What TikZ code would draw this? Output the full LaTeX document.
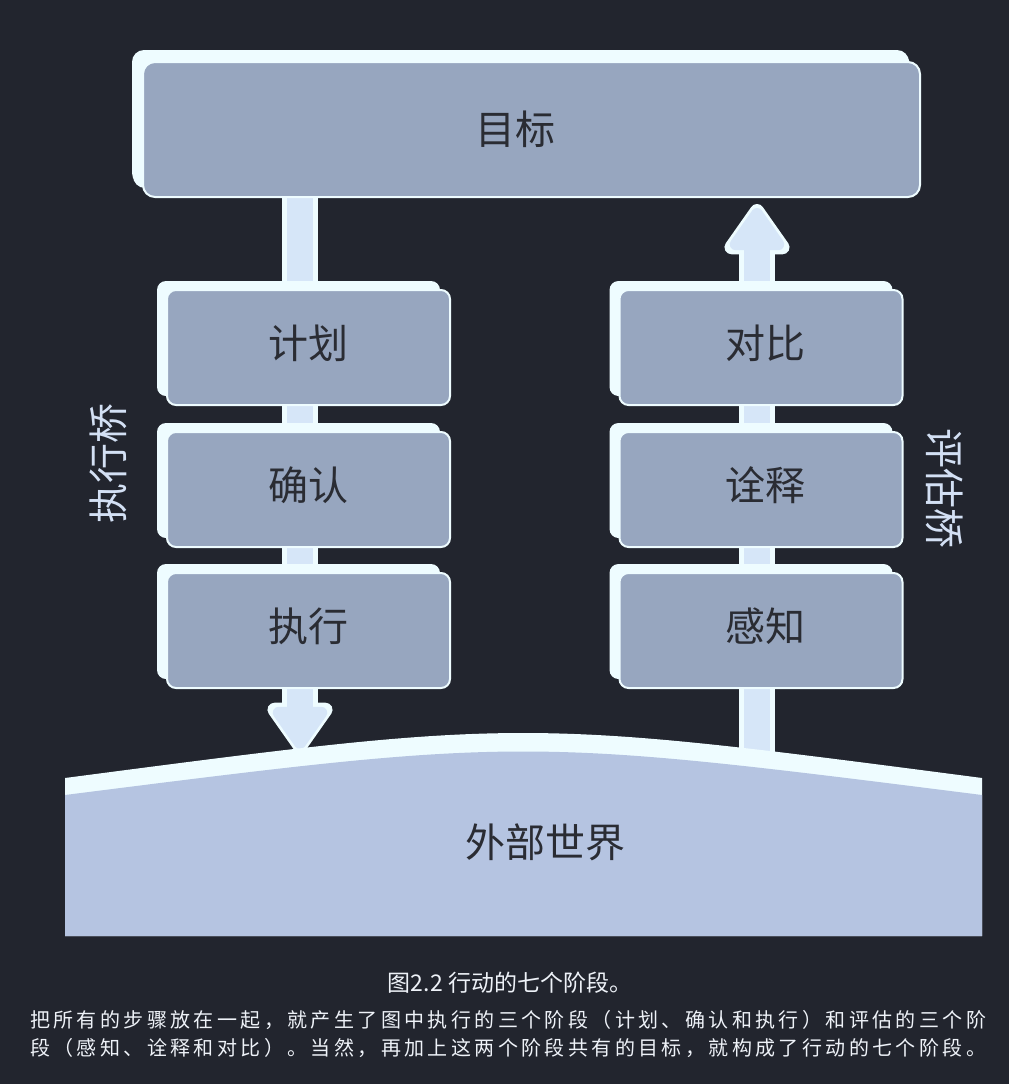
\documentclass[tikz,border=0pt]{standalone}
\usepackage{fontspec}
\usepackage{tikz}
\usetikzlibrary{arrows.meta,shadows}
\newfontfamily\cjk{Noto Sans CJK SC}
\newfontfamily\cjkcap[LetterSpace=17]{Noto Sans CJK SC}
\definecolor{bgdark}{HTML}{22252E}
\definecolor{frame}{HTML}{EEFCFF}
\definecolor{boxfill}{HTML}{97A6BF}
\definecolor{boxtext}{HTML}{2A2C33}
\definecolor{barfill}{HTML}{D6E6F8}
\definecolor{groundfill}{HTML}{B5C4E1}
\definecolor{sidetext}{HTML}{D3E0F4}
\definecolor{captext}{HTML}{EEF2F8}
\pgfdeclarelayer{back}
\pgfsetlayers{back,main}
\tikzset{
  stage/.style={draw=frame, line width=2pt, fill=boxfill, rounded corners=9pt,
    minimum width=283pt, minimum height=115pt, text=boxtext,
    font=\cjk\fontsize{40}{48}\selectfont, text height=35pt, text depth=13.6pt,
    drop shadow={shadow xshift=-10pt, shadow yshift=9pt, fill=frame, opacity=1}},
  goalbox/.style={stage, minimum width=777pt, minimum height=135pt, rounded corners=12pt,
    text depth=4.8pt,
    drop shadow={shadow xshift=-11pt, shadow yshift=12pt, fill=frame, opacity=1}},
  side/.style={text=sidetext, font=\cjk\fontsize{40}{48}\selectfont},
  barout/.style={draw=frame, line width=36pt, -{Triangle[width=74pt,length=56pt,round]}},
  barin/.style={draw=barfill, line width=26pt, -{Triangle[width=62pt,length=47pt,round]}},
  caption/.style={text=captext, inner sep=0pt}
}
\begin{document}
\begin{tikzpicture}[x=1pt,y=-1pt]
  \begin{pgfonlayer}{back}
    \fill[bgdark] (0,0) rectangle (1009,1084);
  \end{pgfonlayer}
  % Goal
  \node[goalbox] (goal) at (531.5,129.5) {目标\hspace*{32pt}};
  % Execution
  \node[stage] (plan) at (308.5,347.5) {计划};
  \node[stage] (confirm) at (308.5,489.5) {确认};
  \node[stage] (execute) at (308.5,630.5) {执行};
  \node[side, rotate=90] (execbridge) at (108,463) {执行桥};
  % Evaluation
  \node[stage] (compare) at (761,347.5) {\hspace*{8pt}对比};
  \node[stage] (interpret) at (761,489.5) {\hspace*{8pt}诠释};
  \node[stage] (perceive) at (761,630.5) {\hspace*{8pt}感知};
  \node[side, rotate=-90] (evalbridge) at (945,488) {评估桥};
  % World
  \fill[frame] (65,778) .. controls (523,718) .. (982,778) -- (982,936) -- (65,936) -- cycle;
  \fill[groundfill] (65,795) .. controls (523,737) .. (982,795) -- (982,936) -- (65,936) -- cycle;
  \node[text=boxtext, font=\cjk\fontsize{40}{48}\selectfont] (world) at (545,842) {外部世界};
  \coordinate (worldL) at (300,753);
  \coordinate (worldR) at (757,775);
  % Bridges
  \begin{pgfonlayer}{back}
    \draw[barout] (goal.south -| worldL) -- (worldL);
    \draw[barin, shorten >=4pt] (goal.south -| worldL) -- (worldL);
    \draw[barout, shorten >=6pt] (worldR) -- (goal.south -| worldR);
    \draw[barin, shorten >=10pt] (worldR) -- (goal.south -| worldR);
  \end{pgfonlayer}
  % Caption
  \node[caption, font=\cjk\fontsize{23}{26}\selectfont] (title) at (510,983) {图2.2 行动的七个阶段。};
  \node[caption, anchor=west, font=\cjkcap\fontsize{20}{24}\selectfont] (line1) at (30,1020)
    {把所有的步骤放在一起，就产生了图中执行的三个阶段（计划、确认和执行）和评估的三个阶};
  \node[caption, anchor=west, font=\cjkcap\fontsize{20}{24}\selectfont] (line2) at (30,1048)
    {段（感知、诠释和对比）。当然，再加上这两个阶段共有的目标，就构成了行动的七个阶段。};
\end{tikzpicture}
\end{document}
